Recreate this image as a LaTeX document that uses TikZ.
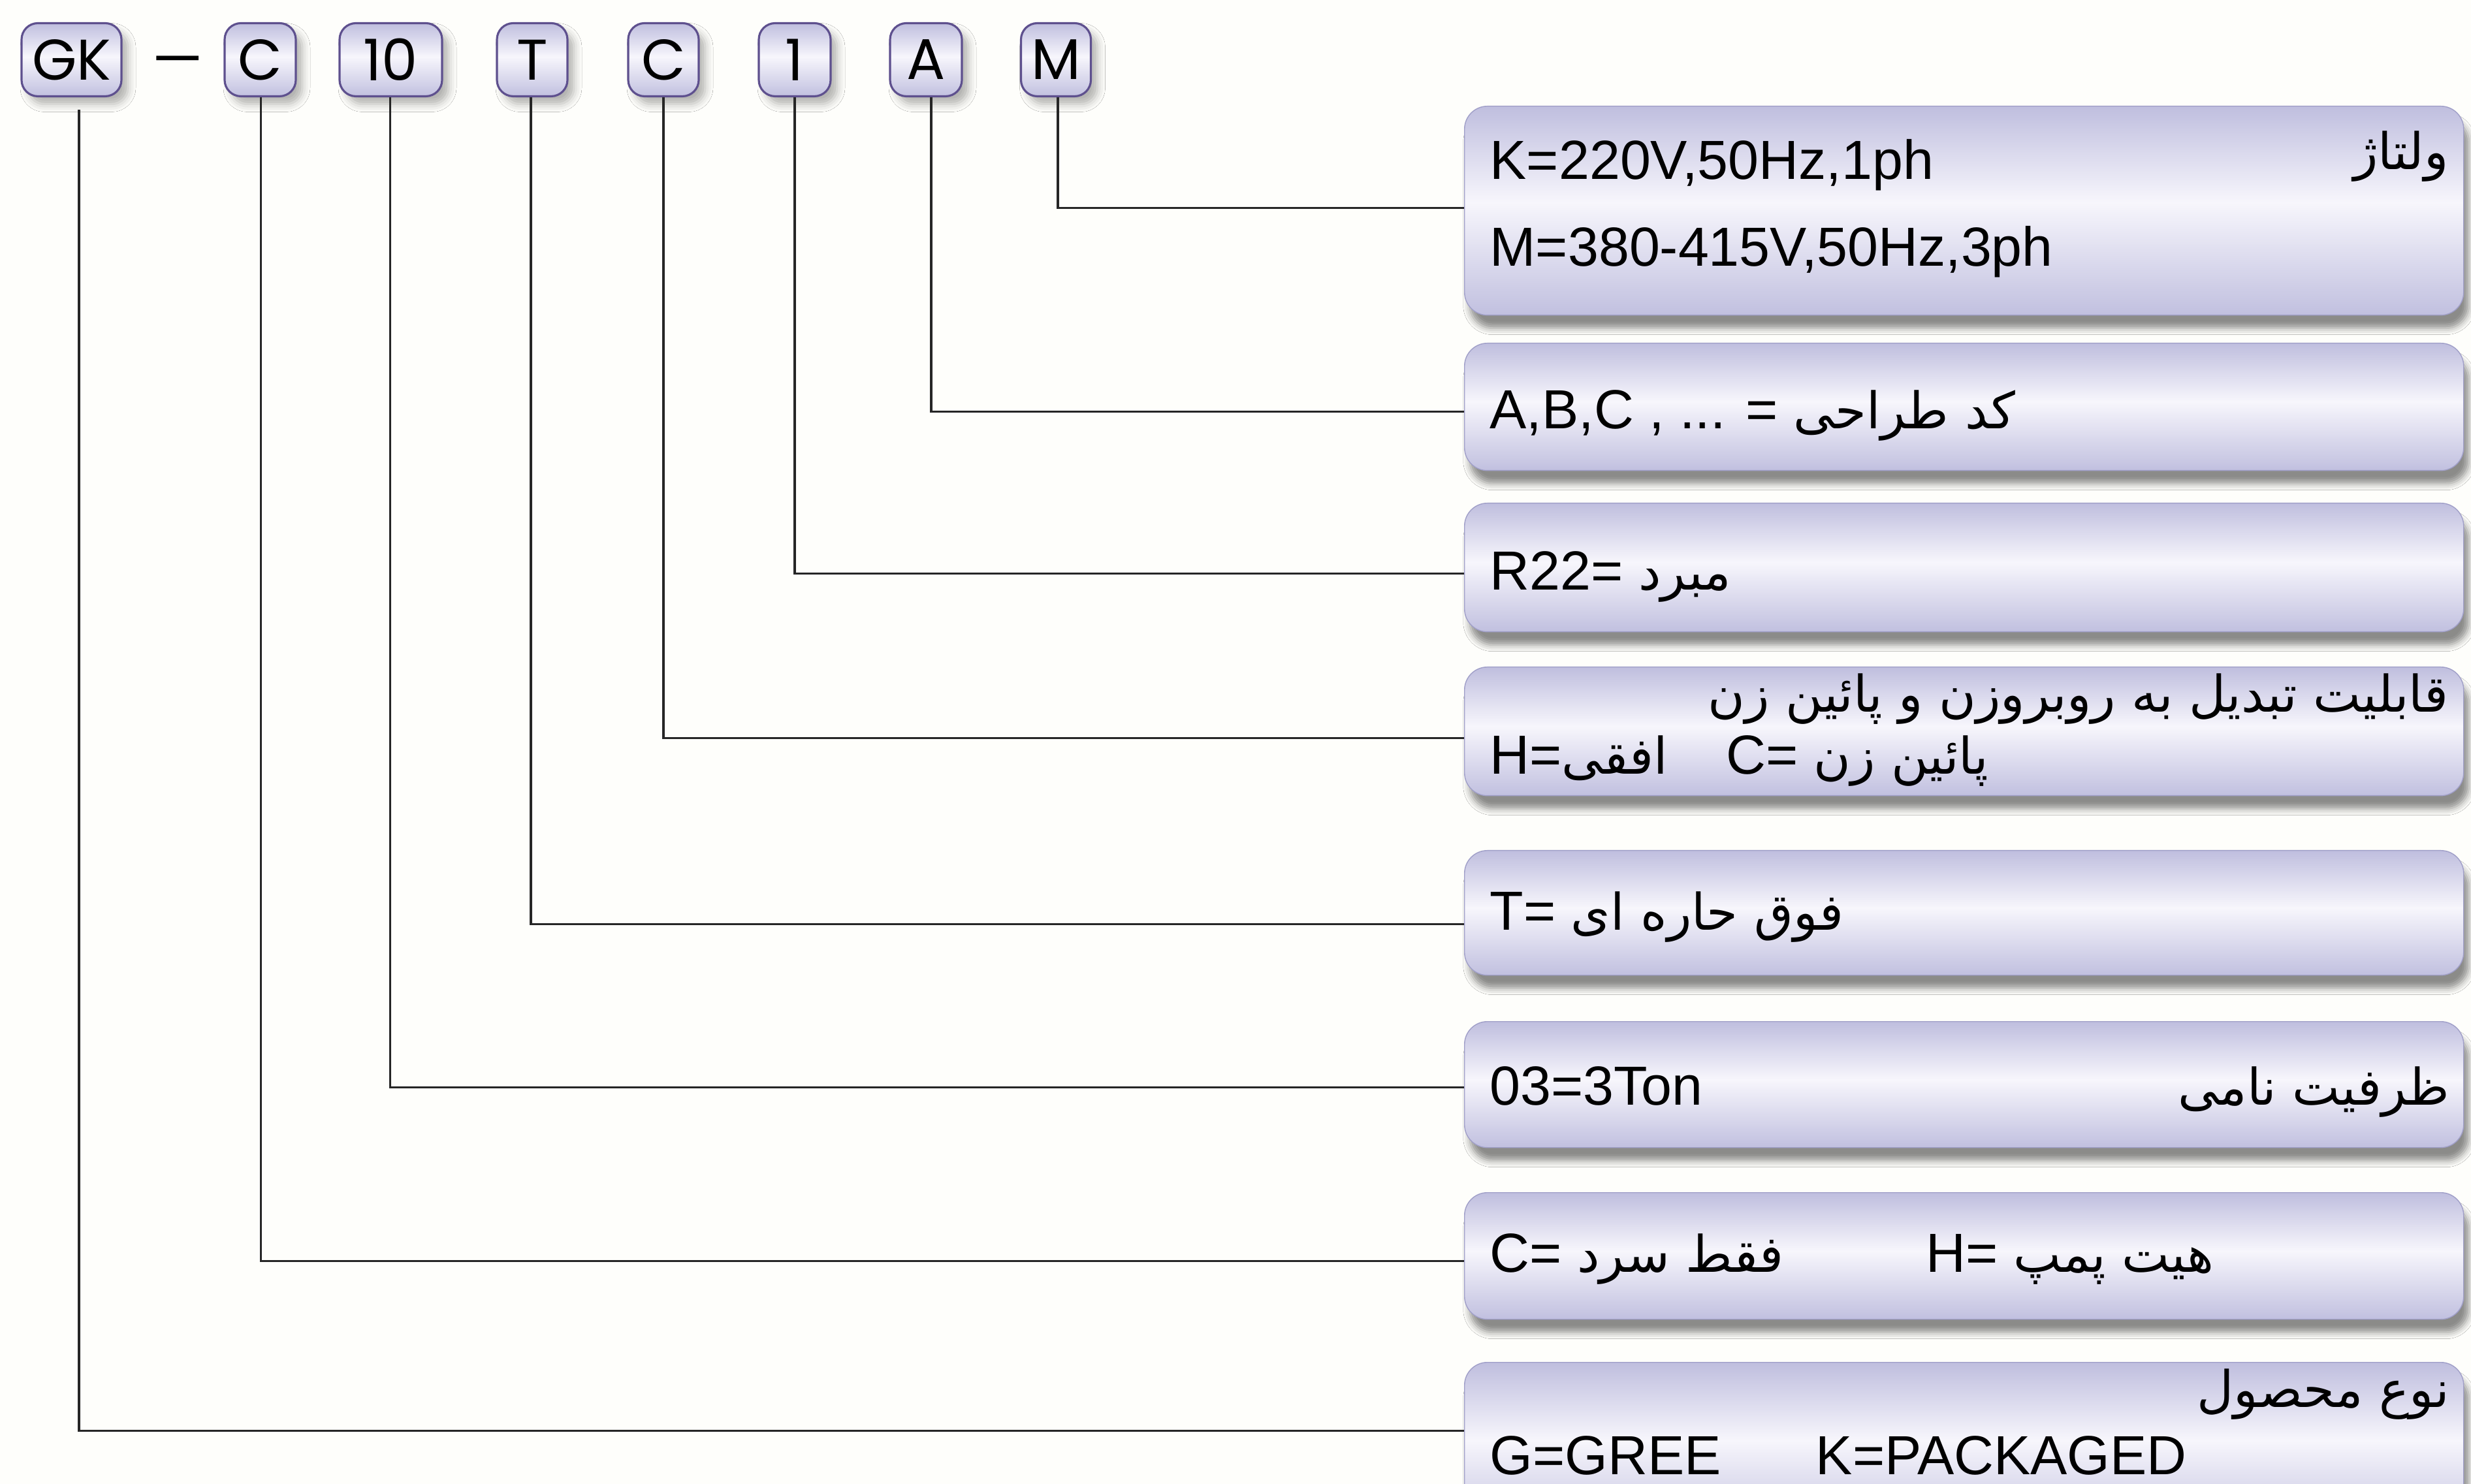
\documentclass[tikz,border=0pt]{standalone}
\usepackage{fontspec}
\setmainfont{Liberation Sans}
\newfontfamily\codefont{Poppins}
\newfontfamily\farsi[Script=Arabic]{DejaVu Sans}
\TeXXeTstate=1
\usetikzlibrary{positioning,shadows.blur}
\definecolor{lavD}{HTML}{A4A3CC}
\definecolor{lavB}{HTML}{B3B2D8}
\definecolor{glow}{HTML}{F7F6FC}
\definecolor{rim}{HTML}{5E508E}
\definecolor{edge}{HTML}{A09FC8}
\definecolor{paper}{HTML}{FEFEFB}
\pgfdeclareverticalshading{glass}{100bp}{color(0bp)=(lavD); color(18bp)=(lavB); color(52bp)=(glow); color(80bp)=(lavB); color(100bp)=(lavD)}
\newcommand{\fatext}[1]{{\farsi\fontsize{22}{22}\selectfont\beginR #1\endR}}
\tikzset{
    code/.style={draw=rim, line width=0.9pt, rounded corners=0.25cm, shading=glass,
        minimum height=1.12cm, inner sep=0pt, font=\codefont\fontsize{25}{25}\selectfont,
        blur shadow={shadow xshift=0.1cm, shadow yshift=-0.12cm, shadow blur radius=0.12cm, shadow opacity=30}},
    panel/.style={draw=edge, line width=0.4pt, rounded corners=0.35cm, shading=glass,
        minimum width=15.3cm, anchor=north west, inner sep=0pt,
        blur shadow={shadow xshift=0.08cm, shadow yshift=-0.2cm, shadow blur radius=0.1cm, shadow opacity=45}},
    lbl/.style={anchor=base west, inner sep=0pt, font=\fontsize{24}{24}\selectfont},
    fa/.style={anchor=base east, inner sep=0pt, font=\farsi\fontsize{22}{22}\selectfont},
    wire/.style={line width=0.9pt, draw=black!85}
}
\begin{document}
\begin{tikzpicture}
    \useasboundingbox (0,0) rectangle (37.84,-22.73);
    \clip (0,0) rectangle (37.84,-22.73);
    \fill[paper] (0,0) rectangle (37.84,-22.73);
    \foreach \n/\x/\w/\t in {GK/1.095/1.53/GK, C/3.985/1.09/C, 10/5.985/1.57/10, T/8.15/1.08/T, Cb/10.16/1.08/C, 1/12.17/1.10/1, A/14.18/1.10/A, M/16.17/1.07/M}
        \node[code, minimum width=\w cm] (c\n) at (\x,-0.915) {\t};
    \node[anchor=base, inner sep=0pt, font=\codefont\fontsize{25}{25}\selectfont] (dash) at (2.72,-1.22) {\scalebox{1.4}[1]{–}};
    \node[panel, minimum height=3.20cm] (bVolt) at (22.42,-1.62) {};
    \node[panel, minimum height=1.95cm] (bDesign) at (22.42,-5.25) {};
    \node[panel, minimum height=1.97cm] (bRefr) at (22.42,-7.70) {};
    \node[panel, minimum height=1.97cm] (bConv) at (22.42,-10.21) {};
    \node[panel, minimum height=1.91cm] (bTrop) at (22.42,-13.02) {};
    \node[panel, minimum height=1.93cm] (bCap) at (22.42,-15.64) {};
    \node[panel, minimum height=1.94cm] (bMode) at (22.42,-18.26) {};
    \node[panel, minimum height=2.60cm] (bType) at (22.42,-20.86) {};
    \foreach \c/\b/\dx/\sy/\dy in {cM/bVolt/0.03/0/0.04, cA/bDesign/0.08/0/-0.075, c1/bRefr/0/0/-0.095, cCb/bConv/0/0/-0.1, cT/bTrop/-0.02/0/-0.17, c10/bCap/-0.01/0/-0.045, cC/bMode/0.01/0/-0.08, cGK/bType/0.115/-0.19/0.25}
        \draw[wire] ([xshift=\dx cm, yshift=\sy cm]\c.south) |- ([yshift=\dy cm]\b.west);
    \node[lbl] (tK) at (22.81,-2.75) {K=220V,50Hz,1ph};
    \node[lbl] (tM) at (22.81,-4.08) {M=380-415V,50Hz,3ph};
    \node[fa] (tVolt) at (37.50,-2.60) {\beginR ولتاژ\endR};
    \node[lbl] (tDesign) at (22.81,-6.57) {A,B,C , ... = \fatext{کد طراحی}};
    \node[lbl] (tRefr) at (22.81,-9.04) {R22= \fatext{مبرد}};
    \node[fa] (tConv) at (37.50,-10.91) {\beginR قابلیت تبدیل به روبروزن و پائین زن\endR};
    \node[lbl] (tH) at (22.81,-11.86) {H=\fatext{افقی}\hspace{0.9cm}C= \fatext{پائین زن}};
    \node[lbl] (tTrop) at (22.81,-14.25) {T= \fatext{فوق حاره ای}};
    \node[lbl] (tCap) at (22.81,-16.92) {03=3Ton};
    \node[fa] (tCapFa) at (37.52,-16.92) {\beginR ظرفیت نامی\endR};
    \node[lbl] (tCool) at (22.81,-19.48) {C= \fatext{فقط سرد}};
    \node[lbl] (tHeat) at (29.49,-19.48) {H= \fatext{هیت پمپ}};
    \node[fa] (tTypeFa) at (37.52,-21.55) {\beginR نوع محصول\endR};
    \node[lbl] (tG) at (22.81,-22.58) {G=GREE};
    \node[lbl] (tPack) at (27.80,-22.58) {K=PACKAGED};
\end{tikzpicture}
\end{document}
